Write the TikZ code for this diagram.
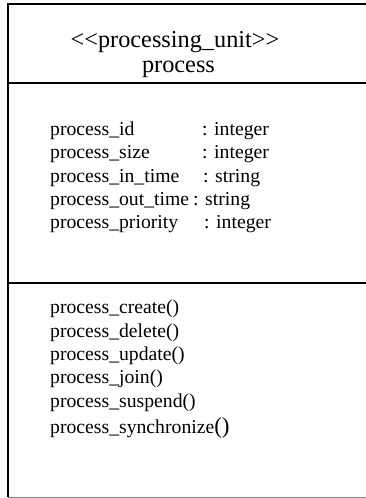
\documentclass[tikz,border=0pt]{standalone}
\usepackage{fontspec}
\setmainfont{Liberation Serif}[Ligatures=ResetAll]

\begin{document}
\begin{tikzpicture}[x=1pt,y=-1pt,
  title/.style={anchor=base,inner sep=0pt,font=\fontsize{24.3}{28}\selectfont},
  item/.style={anchor=base west,inner sep=0pt,font=\fontsize{19.7}{23}\selectfont}]
\useasboundingbox (0,0) rectangle (366,498);
\draw[line width=1.6pt] (8,497) -- (8,4) -- (366,4);
\draw[line width=1.3pt] (8,83) -- (366,83);
\draw[line width=1.3pt] (8,283) -- (366,283);
\draw[line width=1pt,gray] (8,497) -- (366,497);
\node[title] (stereo) at (175,47) {<\kern0pt<processing\_unit>\kern0pt>};
\node[title] (name) at (178.5,72) {process};
\node[item] (a1) at (50,135) {process\_id};
\node[item] (a2) at (50,158) {process\_size};
\node[item] (a3) at (50,182) {process\_in\_time};
\node[item] (a4) at (50,205) {process\_out\_time};
\node[item] (a5) at (50,228) {process\_priority};
\node[item] (t1) at (202,135) {: integer};
\node[item] (t2) at (202,158) {: integer};
\node[item] (t3) at (203,182) {: string};
\node[item] (t4) at (193,205) {: string};
\node[item] (t5) at (204,228) {: integer};
\node[item] (m1) at (50,313) {process\_create()};
\node[item] (m2) at (50,337) {process\_delete()};
\node[item] (m3) at (50,360) {process\_update()};
\node[item] (m4) at (50,383) {process\_join()};
\node[item] (m5) at (50,407) {process\_suspend()};
\node[item] (m6) at (50,433) {process\_synchronize{\fontsize{23}{26}\selectfont()}};
\end{tikzpicture}
\end{document}
